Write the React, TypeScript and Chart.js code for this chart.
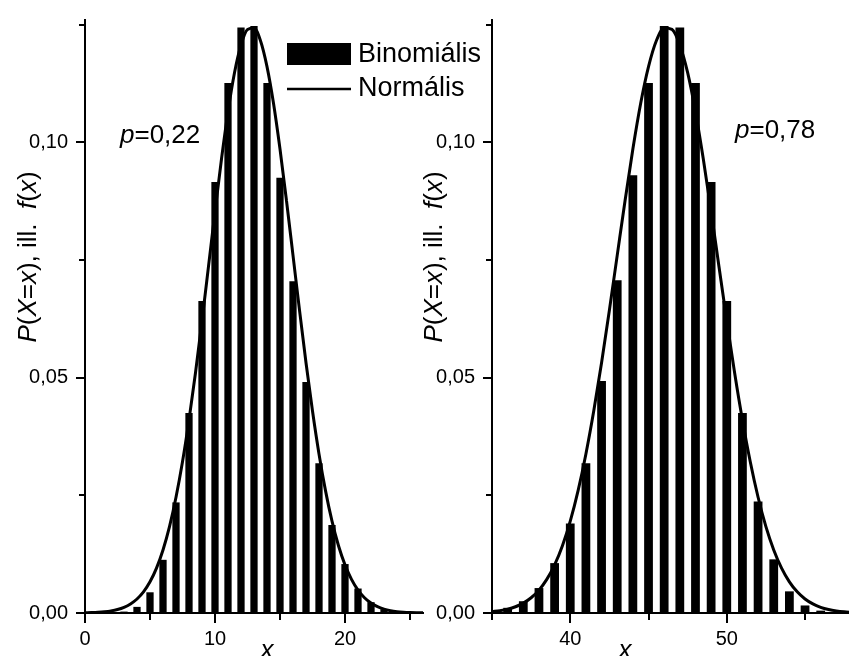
import React, { useEffect, useRef } from 'react';
import { Chart, registerables } from 'chart.js';

Chart.register(...registerables);

const FONT = "'Liberation Sans', Arial, Helvetica, sans-serif";

// ---------- Left panel (p = 0,22) ----------
const leftBarX = [2, 3, 4, 5, 6, 7, 8, 9, 10, 11, 12, 13, 14, 15, 16, 17, 18, 19, 20, 21, 22, 23, 24];
const leftBarY = [0.0001, 0.0003, 0.0013, 0.0044, 0.0113, 0.0235, 0.0425, 0.0663, 0.0916, 0.1126, 0.1244, 0.1247, 0.1126, 0.0925, 0.0705, 0.0491, 0.0318, 0.0187, 0.0104, 0.0052, 0.0023, 0.0008, 0.0003];
const leftCurveX = [0, 0.5, 1, 1.5, 2, 2.5, 3, 3.5, 4, 4.5, 5, 5.5, 6, 6.5, 7, 7.5, 8, 8.5, 9, 9.5, 10, 10.5, 11, 11.5, 12, 12.5, 13, 13.5, 14, 14.5, 15, 15.5, 16, 16.5, 17, 17.5, 18, 18.5, 19, 19.5, 20, 20.5, 21, 21.5, 22, 22.5, 23, 23.5, 24, 24.5, 25, 25.5, 26];
const leftCurveY = [0.000046, 0.000085, 0.000151, 0.000264, 0.000449, 0.000747, 0.001213, 0.001923, 0.002975, 0.004492, 0.006626, 0.009536, 0.0134, 0.01836, 0.02459, 0.03213, 0.041, 0.05105, 0.06206, 0.07364, 0.08531, 0.09646, 0.1065, 0.1148, 0.1207, 0.124, 0.1243, 0.1216, 0.1161, 0.1083, 0.09858, 0.0876, 0.07599, 0.06434, 0.05318, 0.04291, 0.0338, 0.026, 0.01951, 0.01429, 0.01022, 0.00714, 0.004866, 0.003238, 0.002103, 0.001333, 0.000825, 0.000498, 0.000294, 0.000169, 0.000095, 0.000052, 0.000028];
const leftXRange = [0, 26];
const leftXMajor = [0, 10, 20];

// ---------- Right panel (p = 0,78) ----------
const rightBarX = [35, 36, 37, 38, 39, 40, 41, 42, 43, 44, 45, 46, 47, 48, 49, 50, 51, 52, 53, 54, 55, 56, 57];
const rightBarY = [0.0003, 0.0011, 0.0025, 0.0053, 0.0106, 0.019, 0.0318, 0.0493, 0.0707, 0.093, 0.1126, 0.1247, 0.1244, 0.1126, 0.0916, 0.0663, 0.0425, 0.0237, 0.0114, 0.0046, 0.0016, 0.0005, 0.0001];
const rightCurveX = [35, 35.5, 36, 36.5, 37, 37.5, 38, 38.5, 39, 39.5, 40, 40.5, 41, 41.5, 42, 42.5, 43, 43.5, 44, 44.5, 45, 45.5, 46, 46.5, 47, 47.5, 48, 48.5, 49, 49.5, 50, 50.5, 51, 51.5, 52, 52.5, 53, 53.5, 54, 54.5, 55, 55.5, 56, 56.5, 57, 57.5, 58];
const rightCurveY = [0.000294, 0.000498, 0.000825, 0.001333, 0.002103, 0.003238, 0.004866, 0.00714, 0.01022, 0.01429, 0.01951, 0.026, 0.0338, 0.04291, 0.05318, 0.06434, 0.07599, 0.0876, 0.09858, 0.1083, 0.1161, 0.1216, 0.1243, 0.124, 0.1207, 0.1148, 0.1065, 0.09646, 0.08531, 0.07364, 0.06206, 0.05105, 0.041, 0.03213, 0.02459, 0.01836, 0.0134, 0.009536, 0.006626, 0.004492, 0.002975, 0.001923, 0.001213, 0.000747, 0.000449, 0.000264, 0.000151];
const rightXRange = [35, 58];
const rightXMajor = [40, 50];

// ---------- shared ----------
const yRange = [0, 0.126];
const yStep = 0.025;
const yMajor = [0, 0.05, 0.1];
const xStep = 5;
const legendLabels = ['Binomiális', 'Normális'];

type Seg = [string, boolean];
const yTitle: Seg[] = [['P', true], ['(', false], ['X', true], ['=', false], ['x', true], ['), ill.  ', false], ['f', true], ['(', false], ['x', true], [')', false]];
const xTitle: Seg[] = [['x', true]];
const leftPLabel: Seg[] = [['p', true], ['=0,22', false]];
const rightPLabel: Seg[] = [['p', true], ['=0,78', false]];

const isIn = (v: number, arr: number[]) => arr.some((m) => Math.abs(m - v) < 1e-9);
const fmtComma = (v: number, d: number) => v.toFixed(d).replace('.', ',');

function segWidth(ctx: CanvasRenderingContext2D, segs: Seg[], size: number) {
  let w = 0;
  for (const [t, it] of segs) {
    ctx.font = `${it ? 'italic ' : ''}${size}px ${FONT}`;
    w += ctx.measureText(t).width;
  }
  return w;
}

function drawSegs(ctx: CanvasRenderingContext2D, segs: Seg[], size: number, x: number, y: number, align: 'left' | 'center', rotate = false) {
  ctx.save();
  ctx.translate(x, y);
  if (rotate) ctx.rotate(-Math.PI / 2);
  const total = segWidth(ctx, segs, size);
  let cx = align === 'center' ? -total / 2 : 0;
  ctx.textAlign = 'left';
  ctx.textBaseline = 'alphabetic';
  ctx.fillStyle = '#000';
  for (const [t, it] of segs) {
    ctx.font = `${it ? 'italic ' : ''}${size}px ${FONT}`;
    ctx.fillText(t, cx, 0);
    cx += ctx.measureText(t).width;
  }
  ctx.restore();
}

interface PanelCfg {
  barX: number[];
  barY: number[];
  curveX: number[];
  curveY: number[];
  xRange: number[];
  xMajor: number[];
  yWidth: number;
  padRight: number;
  yTitleX: number;
  yTitleY: number;
  xTitleX: number;
  xTitleY: number;
  pLabel: Seg[];
  pX: number;
  pY: number;
  legend: boolean;
}

function makeDecor(cfg: PanelCfg) {
  return {
    id: 'decor',
    afterDraw(chart: any) {
      const ctx: CanvasRenderingContext2D = chart.ctx;
      const xs = chart.scales.x;
      const ys = chart.scales.y;
      const area = chart.chartArea;
      ctx.save();
      ctx.strokeStyle = '#000';
      ctx.lineWidth = 2;
      for (const t of xs.ticks) {
        const px = Math.round(xs.getPixelForValue(t.value));
        const len = isIn(t.value, cfg.xMajor) ? 10 : 7;
        ctx.beginPath();
        ctx.moveTo(px, area.bottom);
        ctx.lineTo(px, area.bottom + len);
        ctx.stroke();
      }
      for (const t of ys.ticks) {
        const py = Math.round(ys.getPixelForValue(t.value));
        const len = isIn(t.value, yMajor) ? 9 : 6;
        ctx.beginPath();
        ctx.moveTo(area.left, py);
        ctx.lineTo(area.left - len, py);
        ctx.stroke();
      }
      ctx.restore();

      drawSegs(ctx, yTitle, 26, cfg.yTitleX, cfg.yTitleY, 'center', true);
      drawSegs(ctx, xTitle, 26, cfg.xTitleX, cfg.xTitleY, 'center');
      drawSegs(ctx, cfg.pLabel, 26, cfg.pX, cfg.pY, 'left');

      if (cfg.legend) {
        ctx.save();
        ctx.fillStyle = '#000';
        ctx.fillRect(287, 43, 64, 22);
        ctx.strokeStyle = '#000';
        ctx.lineWidth = 2.5;
        ctx.beginPath();
        ctx.moveTo(287, 89);
        ctx.lineTo(351, 89);
        ctx.stroke();
        ctx.font = `27px ${FONT}`;
        ctx.textAlign = 'left';
        ctx.textBaseline = 'middle';
        ctx.fillText(legendLabels[0], 358, 55);
        ctx.fillText(legendLabels[1], 358, 89);
        ctx.restore();
      }
    },
  };
}

function makeChart(canvas: HTMLCanvasElement, cfg: PanelCfg) {
  const gridOpts = {
    display: true,
    drawOnChartArea: false,
    drawTicks: true,
    tickLength: 9,
    tickColor: 'rgba(0,0,0,0)',
    offset: false,
  };
  const border = { display: true, color: '#000', width: 2 };
  return new Chart(canvas, {
    type: 'bar',
    data: {
      datasets: [
        {
          type: 'line',
          label: legendLabels[1],
          data: cfg.curveX.map((x, i) => ({ x, y: cfg.curveY[i] })),
          borderColor: '#000',
          borderWidth: 3,
          pointRadius: 0,
          cubicInterpolationMode: 'monotone',
          fill: false,
          order: 0,
        } as any,
        {
          type: 'bar',
          label: legendLabels[0],
          data: cfg.barX.map((x, i) => ({ x, y: cfg.barY[i] })),
          backgroundColor: '#000',
          borderWidth: 0,
          barPercentage: 0.56,
          categoryPercentage: 1,
          order: 1,
        } as any,
      ],
    },
    options: {
      responsive: false,
      animation: false,
      events: [],
      layout: { padding: { top: 14, right: cfg.padRight, left: 0, bottom: 0 } },
      plugins: { legend: { display: false }, tooltip: { enabled: false }, title: { display: false } },
      scales: {
        x: {
          type: 'linear',
          min: cfg.xRange[0],
          max: cfg.xRange[1],
          offset: false,
          ticks: {
            stepSize: xStep,
            autoSkip: false,
            maxRotation: 0,
            includeBounds: false,
            padding: 5,
            color: '#000',
            font: { size: 20, family: FONT },
            callback: (v: any) => (isIn(Number(v), cfg.xMajor) ? String(v) : ''),
          },
          grid: gridOpts,
          border,
          afterFit: (s: any) => {
            s.height = 43;
          },
        },
        y: {
          type: 'linear',
          min: yRange[0],
          max: yRange[1],
          ticks: {
            stepSize: yStep,
            includeBounds: false,
            padding: 8,
            color: '#000',
            font: { size: 20, family: FONT },
            callback: (v: any) => (isIn(Number(v), yMajor) ? fmtComma(Number(v), 2) : ''),
          },
          grid: gridOpts,
          border,
          afterFit: (s: any) => {
            s.width = cfg.yWidth;
          },
        },
      } as any,
    },
    plugins: [makeDecor(cfg)],
  } as any);
}

export default function App() {
  const leftRef = useRef<HTMLCanvasElement>(null);
  const rightRef = useRef<HTMLCanvasElement>(null);

  useEffect(() => {
    const charts: Chart[] = [];
    if (leftRef.current) {
      charts.push(
        makeChart(leftRef.current, {
          barX: leftBarX,
          barY: leftBarY,
          curveX: leftCurveX,
          curveY: leftCurveY,
          xRange: leftXRange,
          xMajor: leftXMajor,
          yWidth: 85,
          padRight: 67,
          yTitleX: 36,
          yTitleY: 257,
          xTitleX: 267,
          xTitleY: 658,
          pLabel: leftPLabel,
          pX: 120,
          pY: 143,
          legend: true,
        })
      );
    }
    if (rightRef.current) {
      charts.push(
        makeChart(rightRef.current, {
          barX: rightBarX,
          barY: rightBarY,
          curveX: rightCurveX,
          curveY: rightCurveY,
          xRange: rightXRange,
          xMajor: rightXMajor,
          yWidth: 92,
          padRight: 0,
          yTitleX: 42,
          yTitleY: 257,
          xTitleX: 225,
          xTitleY: 658,
          pLabel: rightPLabel,
          pX: 335,
          pY: 138,
          legend: false,
        })
      );
    }
    return () => charts.forEach((c) => c.destroy());
  }, []);

  return (
    <div style={{ position: 'fixed', left: 0, top: 0, width: 849, height: 656, overflow: 'hidden', background: '#fff' }}>
      <canvas ref={leftRef} width={490} height={656} style={{ position: 'absolute', left: 0, top: 0, width: 490, height: 656 }} />
      <canvas ref={rightRef} width={452} height={656} style={{ position: 'absolute', left: 400, top: 0, width: 452, height: 656 }} />
    </div>
  );
}
